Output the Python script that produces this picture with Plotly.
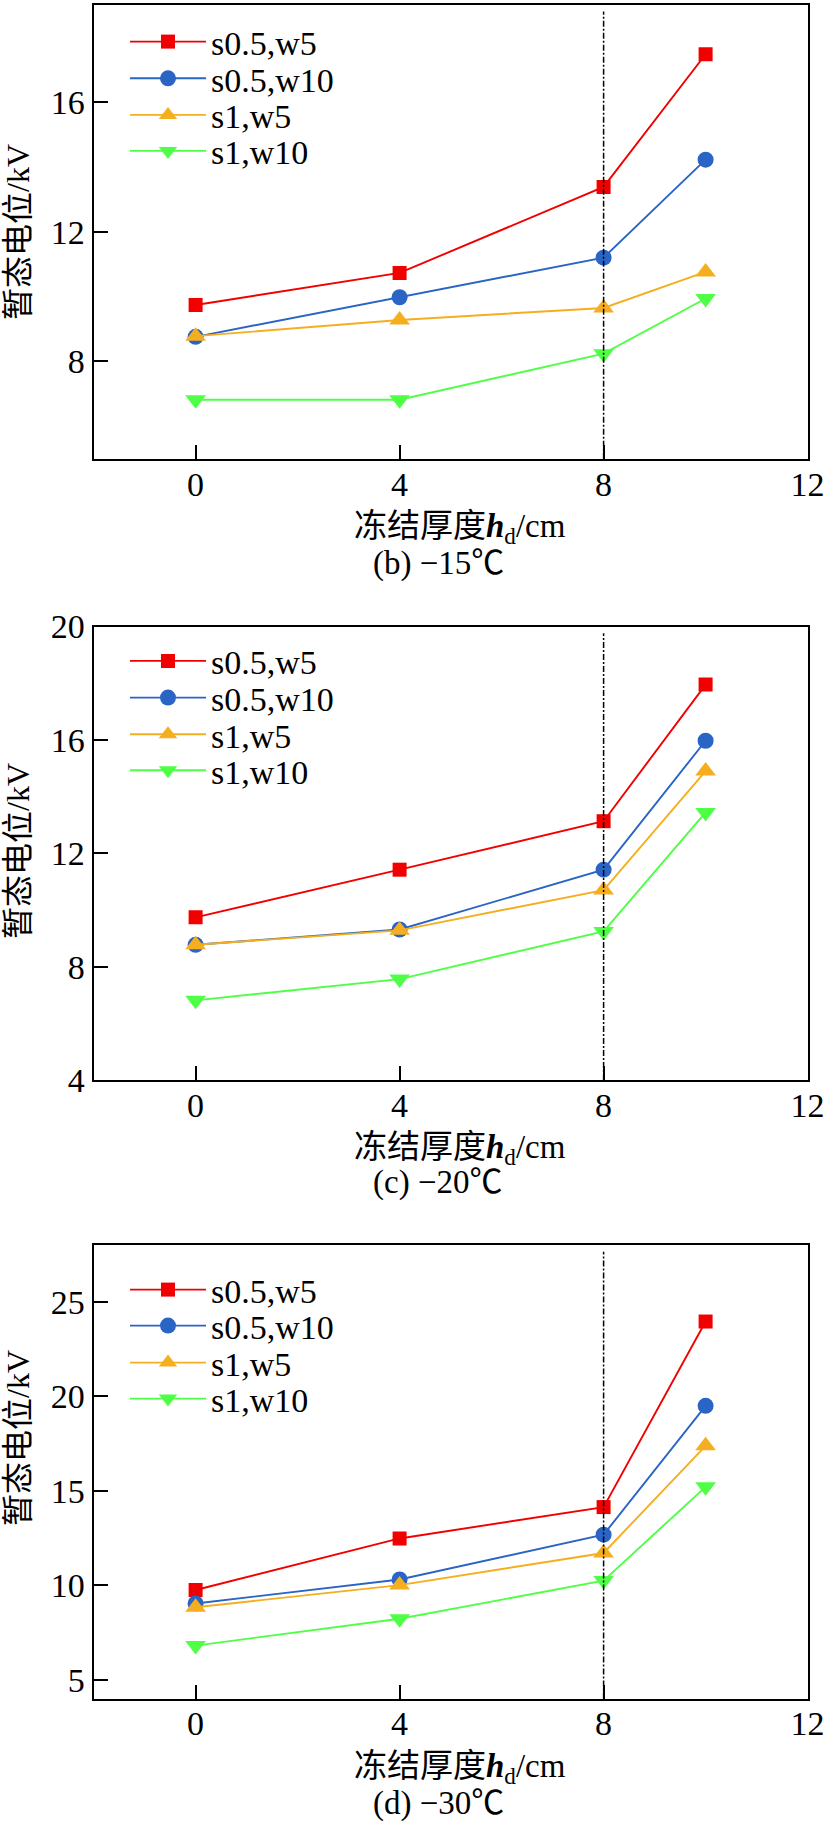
import plotly.graph_objects as go

W, H = 825, 1825

thickness = [0, 4, 8, 10]
series_names = ["s0.5,w5", "s0.5,w10", "s1,w5", "s1,w10"]
colors = ["#F20000", "#2A64C4", "#F5AE1F", "#4EFF46"]
symbols = ["square", "circle", "triangle-up", "triangle-down"]
msizes = [14, 16, 18, 18]

# (b) -15℃
b_s05w5 = [9.74, 10.73, 13.38, 17.47]
b_s05w10 = [8.76, 9.98, 11.20, 14.22]
b_s1w5 = [8.78, 9.28, 9.65, 10.76]
b_s1w10 = [6.82, 6.82, 8.24, 9.94]
# (c) -20℃
c_s05w5 = [9.74, 11.42, 13.13, 17.95]
c_s05w10 = [8.77, 9.31, 11.42, 15.97]
c_s1w5 = [8.77, 9.28, 10.70, 14.90]
c_s1w10 = [6.81, 7.56, 9.24, 13.44]
# (d) -30℃
d_s05w5 = [9.74, 12.47, 14.13, 23.95]
d_s05w10 = [9.03, 10.30, 12.67, 19.49]
d_s1w5 = [8.83, 10.00, 11.70, 17.37]
d_s1w10 = [6.80, 8.22, 10.24, 15.20]

panels = [
    ([b_s05w5, b_s05w10, b_s1w5, b_s1w10], [5, 19], [8, 12, 16], "(b) −15℃"),
    ([c_s05w5, c_s05w10, c_s1w5, c_s1w10], [4, 20], [4, 8, 12, 16, 20], "(c) −20℃"),
    ([d_s05w5, d_s05w10, d_s1w5, d_s1w10], [4, 28], [5, 10, 15, 20, 25], "(d) −30℃"),
]
x_ticks = [0, 4, 8, 12]
x_range = [-2, 12]
ref_x = 8

# layout geometry (pixels from top)
frame_top = [4.6, 626.5, 1245.0]
frame_bot = [458.8, 1080.0, 1698.5]
left_px, right_px = 93.6, 807.6
xtitle_px = [528, 1149, 1768]
caption_px = [563, 1182, 1803]
ytitle_px = [232, 851, 1438]
legend_rows_px = [[42, 78.7, 115.3, 151.3],
                  [661.3, 698, 734.7, 770.7],
                  [1290, 1326, 1363, 1399]]
legend_left_px = 125

SERIF = "Liberation Serif, Times New Roman, Noto Sans CJK SC, serif"

def py(px):
    return 1 - px / H

fig = go.Figure()
annotations = []
shapes = []
layout = {}
n = 0
for i, (series, yr, yt, cap) in enumerate(panels):
    k = "" if i == 0 else str(i + 1)
    for j, vals in enumerate(series):
        n += 1
        lg = "legend" if n == 1 else f"legend{n}"
        fig.add_trace(go.Scatter(
            x=thickness, y=vals, name=series_names[j], mode="lines+markers",
            line=dict(color=colors[j], width=1.9),
            marker=dict(symbol=symbols[j], size=msizes[j], color=colors[j], line=dict(width=0)),
            xaxis="x" + k, yaxis="y" + k, legend=lg, showlegend=True,
        ))
        layout[lg] = dict(
            x=legend_left_px / W, xanchor="left",
            y=py(legend_rows_px[i][j]), yanchor="middle",
            bgcolor="rgba(0,0,0,0)", borderwidth=0, itemwidth=76,
            font=dict(family=SERIF, size=34, color="black"),
        )
    layout["xaxis" + k] = dict(
        domain=[left_px / W, right_px / W], anchor="y" + k, range=x_range,
        tickvals=x_ticks, ticks="inside", ticklen=14, tickwidth=2, tickcolor="black",
        showline=True, linewidth=2, linecolor="black", mirror=True,
        showgrid=False, zeroline=False, ticklabelstandoff=-6, automargin=False,
        tickfont=dict(family=SERIF, size=34, color="black"),
    )
    layout["yaxis" + k] = dict(
        domain=[py(frame_bot[i]), py(frame_top[i])], anchor="x" + k, range=yr,
        tickvals=yt, ticks="inside", ticklen=14, tickwidth=2, tickcolor="black",
        showline=True, linewidth=2, linecolor="black", mirror=True,
        showgrid=False, zeroline=False, automargin=False,
        tickfont=dict(family=SERIF, size=34, color="black"),
    )
    shapes.append(dict(type="line", xref="x" + k, yref=("y" + k + " domain"),
                       x0=ref_x, x1=ref_x, y0=0, y1=0.985,
                       line=dict(color="black", width=1.5, dash="6px,2px,2px,2px")))
    annotations.append(dict(
        text="冻结厚度<b><i>h</i></b><sub>d</sub>/cm", x=460 / W, y=py(xtitle_px[i]),
        xref="paper", yref="paper", showarrow=False, xanchor="center", yanchor="middle",
        font=dict(family=SERIF, size=33, color="black")))
    annotations.append(dict(
        text=cap, x=438 / W, y=py(caption_px[i]),
        xref="paper", yref="paper", showarrow=False, xanchor="center", yanchor="middle",
        font=dict(family=SERIF, size=33, color="black")))
    annotations.append(dict(
        text="暂态电位/kV", x=18 / W, y=py(ytitle_px[i]), textangle=-90,
        xref="paper", yref="paper", showarrow=False, xanchor="center", yanchor="middle",
        font=dict(family=SERIF, size=32, color="black")))

fig.update_layout(
    width=W, height=H, margin=dict(l=0, r=0, t=0, b=0, autoexpand=False),
    paper_bgcolor="white", plot_bgcolor="white", showlegend=True,
    annotations=annotations, shapes=shapes, **layout,
)

fig.write_html("out.html", config={"displayModeBar": False},
               post_script="document.body.style.margin='0';")
